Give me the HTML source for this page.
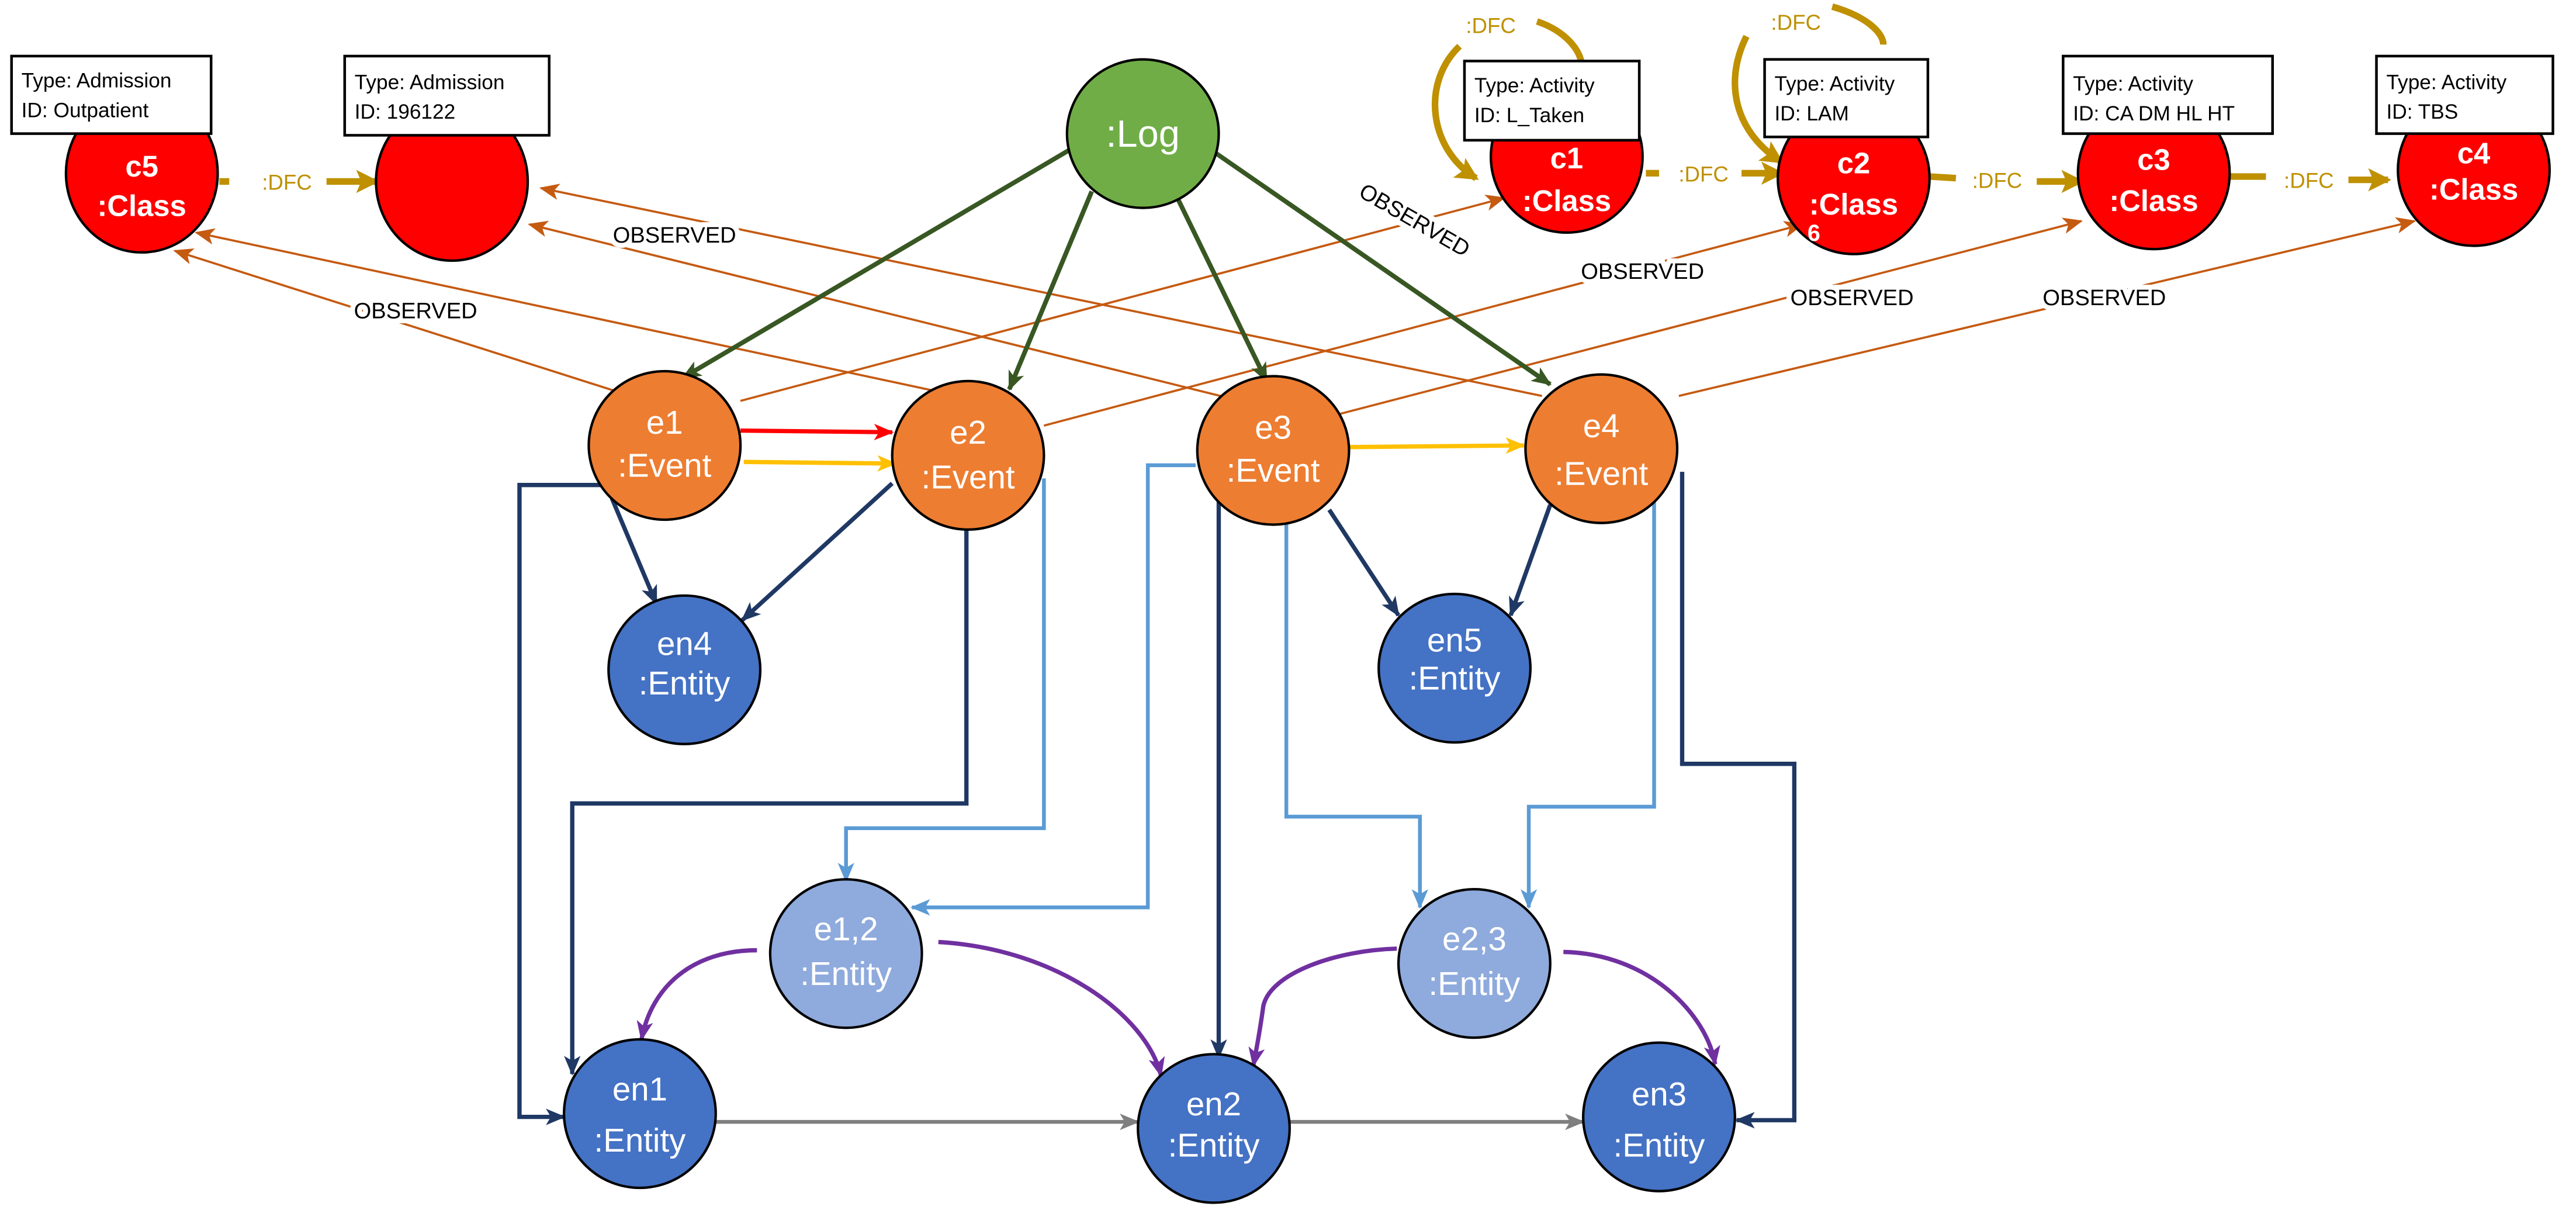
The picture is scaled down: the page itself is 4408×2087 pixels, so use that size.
<!DOCTYPE html>
<html><head><meta charset="utf-8"><style>
html,body{margin:0;padding:0;background:#fff;}
svg{display:block;}
text{font-family:"Liberation Sans",sans-serif;}
.nl{fill:#fff;font-size:20px;text-anchor:middle;}
.cl{fill:#fff;font-size:18px;font-weight:bold;text-anchor:middle;}
.bx{fill:#000;font-size:12.5px;}
.ob{fill:#000;font-size:13.5px;text-anchor:middle;stroke:#fff;stroke-width:6;paint-order:stroke;}
.dfc{fill:#bf9000;font-size:13px;text-anchor:middle;}
</style></head><body>
<svg width="4408" height="2087" viewBox="0 0 1562 739.5" preserveAspectRatio="none" xmlns="http://www.w3.org/2000/svg">
<defs>
<marker id="aO" markerUnits="userSpaceOnUse" markerWidth="12" markerHeight="10" refX="11" refY="5" orient="auto"><path d="M0,0 L12,5 L0,10 L3,5 Z" fill="#c55a11"/></marker>
<marker id="aG" markerUnits="userSpaceOnUse" markerWidth="12" markerHeight="10" refX="11" refY="5" orient="auto"><path d="M0,0 L12,5 L0,10 L3,5 Z" fill="#385723"/></marker>
<marker id="aD" markerUnits="userSpaceOnUse" markerWidth="12" markerHeight="10" refX="11" refY="5" orient="auto"><path d="M0,0 L12,5 L0,10 L3,5 Z" fill="#1f3864"/></marker>
<marker id="aL" markerUnits="userSpaceOnUse" markerWidth="12" markerHeight="10" refX="11" refY="5" orient="auto"><path d="M0,0 L12,5 L0,10 L3,5 Z" fill="#5b9bd5"/></marker>
<marker id="aP" markerUnits="userSpaceOnUse" markerWidth="12" markerHeight="10" refX="11" refY="5" orient="auto"><path d="M0,0 L12,5 L0,10 L3,5 Z" fill="#7030a0"/></marker>
<marker id="aY" markerUnits="userSpaceOnUse" markerWidth="12" markerHeight="10" refX="11" refY="5" orient="auto"><path d="M0,0 L12,5 L0,10 L3,5 Z" fill="#ffc000"/></marker>
<marker id="aR" markerUnits="userSpaceOnUse" markerWidth="12" markerHeight="10" refX="11" refY="5" orient="auto"><path d="M0,0 L12,5 L0,10 L3,5 Z" fill="#ff0000"/></marker>
<marker id="aGr" markerUnits="userSpaceOnUse" markerWidth="12" markerHeight="10" refX="11" refY="5" orient="auto"><path d="M0,0 L12,5 L0,10 L3,5 Z" fill="#7f7f7f"/></marker>
<marker id="aF" markerUnits="userSpaceOnUse" markerWidth="14" markerHeight="14" refX="12" refY="7" orient="auto"><path d="M0,0 L14,7 L0,14 L3,7 Z" fill="#bf9000"/></marker>
</defs>

<!-- OBSERVED lines -->
<g stroke="#c55a11" stroke-width="1.3" fill="none">
<line x1="373" y1="237" x2="106" y2="152" marker-end="url(#aO)"/>
<line x1="567" y1="237" x2="119" y2="141" marker-end="url(#aO)"/>
<line x1="740" y1="240" x2="321" y2="136" marker-end="url(#aO)"/>
<line x1="935" y1="240" x2="328" y2="114" marker-end="url(#aO)"/>
<line x1="449" y1="243" x2="912" y2="120" marker-end="url(#aO)"/>
<line x1="633" y1="258" x2="1093" y2="136" marker-end="url(#aO)"/>
<line x1="812" y1="251" x2="1262" y2="134" marker-end="url(#aO)"/>
<line x1="1018" y1="240" x2="1464" y2="134" marker-end="url(#aO)"/>
</g>
<text class="ob" x="252" y="193">OBSERVED</text>
<text class="ob" x="409" y="147">OBSERVED</text>
<text class="ob" x="858" y="138" transform="rotate(30 858 133)">OBSERVED</text>
<text class="ob" x="996" y="169">OBSERVED</text>
<text class="ob" x="1123" y="185">OBSERVED</text>
<text class="ob" x="1276" y="185">OBSERVED</text>

<!-- Log lines -->
<g stroke="#385723" stroke-width="2.8" fill="none">
<line x1="650" y1="90" x2="414" y2="229" marker-end="url(#aG)"/>
<line x1="662" y1="116" x2="612" y2="236" marker-end="url(#aG)"/>
<line x1="712" y1="116" x2="768" y2="231" marker-end="url(#aG)"/>
<line x1="736" y1="92" x2="940" y2="233" marker-end="url(#aG)"/>
</g>

<!-- DFC -->
<g stroke="#bf9000" stroke-width="4" fill="none">
<line x1="133" y1="110" x2="139" y2="110"/><line x1="198" y1="110" x2="228" y2="110" marker-end="url(#aF)"/>
<line x1="998" y1="105" x2="1006" y2="105"/><line x1="1056" y1="105" x2="1080" y2="105" marker-end="url(#aF)"/>
<line x1="1170" y1="107" x2="1186" y2="108"/><line x1="1235" y1="110" x2="1262" y2="110" marker-end="url(#aF)"/>
<line x1="1352" y1="107" x2="1374" y2="107"/><line x1="1424" y1="109" x2="1448" y2="109" marker-end="url(#aF)"/>
<path d="M959,38 C957,28 947,18 932,13"/>
<path d="M885,28 C862,50 866,90 895,108" marker-end="url(#aF)"/>
<path d="M1142,27 C1142,20 1132,10 1111,4"/>
<path d="M1059,22 C1045,50 1052,80 1080,98" marker-end="url(#aF)"/>
</g>
<text class="dfc" x="174" y="115">:DFC</text>
<text class="dfc" x="1033" y="110">:DFC</text>
<text class="dfc" x="1211" y="114">:DFC</text>
<text class="dfc" x="1400" y="114">:DFC</text>
<text class="dfc" x="904" y="20">:DFC</text>
<text class="dfc" x="1089" y="18">:DFC</text>

<!-- event-event -->
<line x1="449" y1="261" x2="541" y2="262" stroke="#ff0000" stroke-width="2.6" marker-end="url(#aR)"/>
<line x1="451" y1="280" x2="543" y2="281" stroke="#ffc000" stroke-width="2.6" marker-end="url(#aY)"/>
<line x1="818" y1="271" x2="924" y2="270" stroke="#ffc000" stroke-width="2.6" marker-end="url(#aY)"/>

<!-- dark blue -->
<g stroke="#1f3864" stroke-width="2.6" fill="none">
<line x1="371" y1="302" x2="398" y2="366" marker-end="url(#aD)"/>
<line x1="541" y1="293" x2="450" y2="376" marker-end="url(#aD)"/>
<line x1="806" y1="309" x2="848" y2="373" marker-end="url(#aD)"/>
<line x1="940" y1="306" x2="916" y2="373" marker-end="url(#aD)"/>
<path d="M366,294 H315 V677 H342" marker-end="url(#aD)"/>
<path d="M586,321 V487 H347 V651" marker-end="url(#aD)"/>
<path d="M739,303 V641" marker-end="url(#aD)"/>
<path d="M1020,286 V463 H1088 V679 H1053" marker-end="url(#aD)"/>
</g>
<!-- light blue -->
<g stroke="#5b9bd5" stroke-width="2.3" fill="none">
<path d="M633,290 V502 H513 V534" marker-end="url(#aL)"/>
<path d="M725,282 H696 V550 H553" marker-end="url(#aL)"/>
<path d="M780,313 V495 H861 V550" marker-end="url(#aL)"/>
<path d="M1003,303 V489 H927 V550" marker-end="url(#aL)"/>
</g>
<!-- purple -->
<g stroke="#7030a0" stroke-width="2.6" fill="none">
<path d="M459,576 C420,576 395,598 389,630" marker-end="url(#aP)"/>
<path d="M569,571 C640,575 695,615 704,652" marker-end="url(#aP)"/>
<path d="M847,575 C810,576 770,590 766,610 C764,625 762,635 760,646" marker-end="url(#aP)"/>
<path d="M948,577 C1000,578 1035,615 1040,645" marker-end="url(#aP)"/>
</g>
<!-- gray -->
<line x1="434" y1="680" x2="690" y2="680" stroke="#7f7f7f" stroke-width="2.3" marker-end="url(#aGr)"/>
<line x1="782" y1="680" x2="960" y2="680" stroke="#7f7f7f" stroke-width="2.3" marker-end="url(#aGr)"/>

<!-- nodes -->
<g stroke="#000" stroke-width="1.5">
<ellipse cx="86" cy="105" rx="46" ry="48" fill="#ff0000"/>
<ellipse cx="274" cy="110" rx="46" ry="48" fill="#ff0000"/>
<ellipse cx="950" cy="95" rx="46" ry="46" fill="#ff0000"/>
<ellipse cx="1124" cy="108" rx="46" ry="46" fill="#ff0000"/>
<ellipse cx="1306" cy="105" rx="46" ry="46" fill="#ff0000"/>
<ellipse cx="1500" cy="103" rx="46" ry="46" fill="#ff0000"/>
<ellipse cx="693" cy="81" rx="46" ry="45" fill="#70ad47"/>
<ellipse cx="403" cy="270" rx="46" ry="45" fill="#ed7d31"/>
<ellipse cx="587" cy="276" rx="46" ry="45" fill="#ed7d31"/>
<ellipse cx="772" cy="273" rx="46" ry="45" fill="#ed7d31"/>
<ellipse cx="971" cy="272" rx="46" ry="45" fill="#ed7d31"/>
<ellipse cx="415" cy="406" rx="46" ry="45" fill="#4472c4"/>
<ellipse cx="882" cy="405" rx="46" ry="45" fill="#4472c4"/>
<ellipse cx="513" cy="578" rx="46" ry="45" fill="#8faadc"/>
<ellipse cx="894" cy="584" rx="46" ry="45" fill="#8faadc"/>
<ellipse cx="388" cy="675" rx="46" ry="45" fill="#4472c4"/>
<ellipse cx="736" cy="684" rx="46" ry="45" fill="#4472c4"/>
<ellipse cx="1006" cy="677" rx="46" ry="45" fill="#4472c4"/>
</g>

<!-- boxes -->
<g fill="#fff" stroke="#000" stroke-width="1.6">
<rect x="7" y="34" width="121" height="47"/>
<rect x="209" y="34" width="124" height="48"/>
<rect x="888" y="37" width="106" height="48"/>
<rect x="1070" y="36" width="99" height="47"/>
<rect x="1251" y="34" width="127" height="47"/>
<rect x="1441" y="34" width="107" height="47"/>
</g>
<text class="bx" x="13" y="53">Type: Admission</text><text class="bx" x="13" y="71">ID: Outpatient</text>
<text class="bx" x="215" y="54">Type: Admission</text><text class="bx" x="215" y="72">ID: 196122</text>
<text class="bx" x="894" y="56">Type: Activity</text><text class="bx" x="894" y="74">ID: L_Taken</text>
<text class="bx" x="1076" y="55">Type: Activity</text><text class="bx" x="1076" y="73">ID: LAM</text>
<text class="bx" x="1257" y="55">Type: Activity</text><text class="bx" x="1257" y="73">ID: CA DM HL HT</text>
<text class="bx" x="1447" y="54">Type: Activity</text><text class="bx" x="1447" y="72">ID: TBS</text>

<!-- labels -->
<text class="cl" x="86" y="107">c5</text><text class="cl" x="86" y="131">:Class</text>
<text class="cl" x="950" y="102">c1</text><text class="cl" x="950" y="128">:Class</text>
<text class="cl" x="1124" y="105">c2</text><text class="cl" x="1124" y="130">:Class</text>
<text class="cl" x="1306" y="103">c3</text><text class="cl" x="1306" y="128">:Class</text>
<text class="cl" x="1500" y="99">c4</text><text class="cl" x="1500" y="121">:Class</text>
<text x="1096" y="146" style="fill:#fff;font-size:14px;font-weight:bold;">6</text>
<text class="nl" x="693" y="89" style="font-size:23px">:Log</text>
<text class="nl" x="403" y="263">e1</text><text class="nl" x="403" y="289">:Event</text>
<text class="nl" x="587" y="269">e2</text><text class="nl" x="587" y="296">:Event</text>
<text class="nl" x="772" y="266">e3</text><text class="nl" x="772" y="292">:Event</text>
<text class="nl" x="971" y="265">e4</text><text class="nl" x="971" y="294">:Event</text>
<text class="nl" x="415" y="397">en4</text><text class="nl" x="415" y="421">:Entity</text>
<text class="nl" x="882" y="395">en5</text><text class="nl" x="882" y="418">:Entity</text>
<text class="nl" x="513" y="570">e1,2</text><text class="nl" x="513" y="597">:Entity</text>
<text class="nl" x="894" y="576">e2,3</text><text class="nl" x="894" y="603">:Entity</text>
<text class="nl" x="388" y="667">en1</text><text class="nl" x="388" y="698">:Entity</text>
<text class="nl" x="736" y="676">en2</text><text class="nl" x="736" y="701">:Entity</text>
<text class="nl" x="1006" y="670">en3</text><text class="nl" x="1006" y="701">:Entity</text>
</svg>
</body></html>
